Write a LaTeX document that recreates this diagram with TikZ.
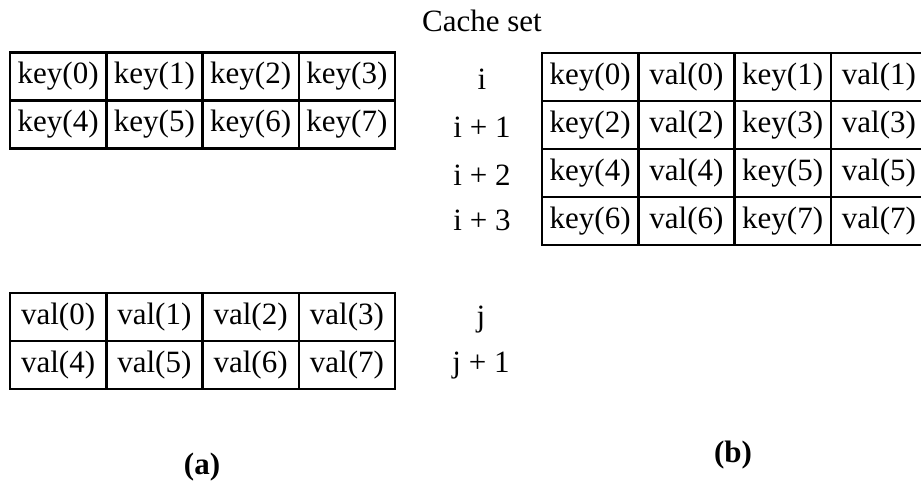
\documentclass[tikz,border=0pt]{standalone}
\usepackage{fontspec}
\setmainfont{Liberation Serif}
\begin{document}
\begin{tikzpicture}[x=1pt,y=-1pt,
    cell/.style={draw, line width=2.5pt, minimum width=96.25pt, minimum height=48pt,
                 inner sep=0pt, outer sep=0pt, font=\fontsize{31}{36}\selectfont},
    tag/.style={anchor=base, font=\fontsize{31}{36}\selectfont},
    caption/.style={font=\fontsize{31}{36}\selectfont\bfseries}]
    \useasboundingbox (0,0) rectangle (921,482);

    % (a): keys and values in two separate arrays
    \foreach \c in {0,...,3}{
        \pgfmathtruncatemacro{\d}{\c+4}
        \node[cell] (ka\c) at ({10+96.25*(\c+0.5)}, 76.5) {key(\c)};
        \node[cell] (ka\d) at ({10+96.25*(\c+0.5)}, 124.5) {key(\d)};
        \node[cell] (va\c) at ({10+96.25*(\c+0.5)}, 317) {val(\c)};
        \node[cell] (va\d) at ({10+96.25*(\c+0.5)}, 365) {val(\d)};
    }

    % (b): key and value side by side in one cache set
    \foreach \r in {0,...,3}{
        \pgfmathtruncatemacro{\k}{2*\r}
        \pgfmathtruncatemacro{\m}{2*\r+1}
        \node[cell] (kb\k) at (590.125, {77+48*\r}) {key(\k)};
        \node[cell] (vb\k) at (686.375, {77+48*\r}) {val(\k)};
        \node[cell] (kb\m) at (782.625, {77+48*\r}) {key(\m)};
        \node[cell] (vb\m) at (878.875, {77+48*\r}) {val(\m)};
    }

    \node[tag] (title) at (482, 31) {Cache set};

    \node[tag] (seti0) at (482, 89) {i};
    \node[tag] (seti1) at (482, 137) {i + 1};
    \node[tag] (seti2) at (482, 185) {i + 2};
    \node[tag] (seti3) at (482, 230) {i + 3};
    \node[tag] (setj0) at (481, 326) {j};
    \node[tag] (setj1) at (481, 372) {j + 1};

    \node[caption] (capa) at (202, 467) {(a)};
    \node[caption] (capb) at (733, 455) {(b)};
\end{tikzpicture}
\end{document}
